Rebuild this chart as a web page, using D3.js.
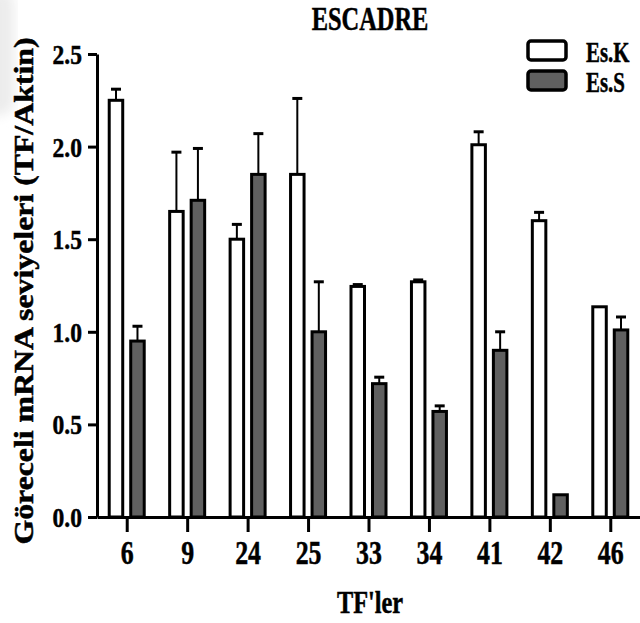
<!DOCTYPE html>
<html>
<head>
<meta charset="utf-8">
<script src="https://cdn.jsdelivr.net/npm/d3@7"></script>
<style>
  body { margin: 0; background: #fff; }
  svg text { font-family: "Liberation Serif", "Times New Roman", serif; font-weight: bold; fill: #000; stroke: #000; stroke-width: 0.5px; }
</style>
</head>
<body>
<svg id="chart" width="640" height="623"></svg>
<script>
// data
var categories = ["6", "9", "24", "25", "33", "34", "41", "42", "46"];
var seriesNames = ["Es.K", "Es.S"];
var esK = [2.25, 1.65, 1.50, 1.85, 1.245, 1.27, 2.01, 1.60, 1.135];
var esKErr = [0.06, 0.32, 0.08, 0.41, 0.01, 0.01, 0.07, 0.045, 0];
var esS = [0.95, 1.71, 1.85, 1.00, 0.72, 0.57, 0.90, 0.12, 1.01];
var esSErr = [0.08, 0.28, 0.22, 0.27, 0.035, 0.03, 0.10, 0, 0.07];
var yTicks = [0, 0.5, 1.0, 1.5, 2.0, 2.5];

var colors = { "Es.K": "#ffffff", "Es.S": "#606060" };

var svg = d3.select("#chart");

// faint grey smudge in the top-left corner of the scan
var defs = svg.append("defs");
defs.append("filter").attr("id", "blur")
  .append("feGaussianBlur").attr("stdDeviation", 6);
svg.append("rect")
  .attr("x", -20).attr("y", -10).attr("width", 34).attr("height", 125)
  .attr("rx", 14)
  .attr("fill", "#ececec")
  .attr("filter", "url(#blur)");

// squash text horizontally like the reference
function squish(sel, k) {
  sel.each(function () {
    var w = this.getComputedTextLength();
    d3.select(this).attr("textLength", w * k).attr("lengthAdjust", "spacingAndGlyphs");
  });
}

var x0 = d3.scaleBand().domain(categories).range([97, 641]).padding(0);
var x1 = d3.scaleBand().domain(seriesNames).range([-18, 17]).paddingInner(0.372);
var y = d3.scaleLinear().domain([0, 2.5]).range([517, 54]);

var rows = categories.map(function (c, i) {
  return {
    cat: c,
    bars: [
      { key: "Es.K", value: esK[i], err: esKErr[i] },
      { key: "Es.S", value: esS[i], err: esSErr[i] }
    ]
  };
});

var groups = svg.selectAll(".grp")
  .data(rows)
  .enter().append("g")
  .attr("class", "grp")
  .attr("transform", function (d) { return "translate(" + (x0(d.cat) + x0.bandwidth() / 2) + ",0)"; });

var bar = groups.selectAll(".bar")
  .data(function (d) { return d.bars; })
  .enter().append("g")
  .attr("class", "bar");

// error bars (upper only)
bar.filter(function (d) { return d.err > 0; })
  .append("line")
  .attr("x1", function (d) { return x1(d.key) + x1.bandwidth() / 2; })
  .attr("x2", function (d) { return x1(d.key) + x1.bandwidth() / 2; })
  .attr("y1", function (d) { return y(d.value); })
  .attr("y2", function (d) { return y(d.value + d.err); })
  .attr("stroke", "#000").attr("stroke-width", 2);

bar.filter(function (d) { return d.err > 0; })
  .append("line")
  .attr("x1", function (d) { return x1(d.key) + x1.bandwidth() / 2 - 5; })
  .attr("x2", function (d) { return x1(d.key) + x1.bandwidth() / 2 + 5; })
  .attr("y1", function (d) { return y(d.value + d.err); })
  .attr("y2", function (d) { return y(d.value + d.err); })
  .attr("stroke", "#000").attr("stroke-width", 3);

bar.append("rect")
  .attr("x", function (d) { return x1(d.key); })
  .attr("width", x1.bandwidth())
  .attr("y", function (d) { return y(d.value); })
  .attr("height", function (d) { return y(0) - y(d.value); })
  .attr("fill", function (d) { return colors[d.key]; })
  .attr("stroke", "#000")
  .attr("stroke-width", 3);

// axes
var yAxis = svg.append("g")
  .attr("transform", "translate(97,0)")
  .call(d3.axisLeft(y).tickValues(yTicks).tickFormat(d3.format(".1f")).tickSize(9).tickSizeOuter(0).tickPadding(6));
yAxis.selectAll("path, line").attr("stroke", "#000").attr("stroke-width", 3);
yAxis.selectAll("text").style("font-size", "28px").attr("dy", "0.34em");
squish(yAxis.selectAll("text"), 0.84);

var xAxis = svg.append("g")
  .attr("transform", "translate(0,517)")
  .call(d3.axisBottom(x0).tickSize(15).tickSizeOuter(0).tickPadding(8));
xAxis.selectAll("path, line").attr("stroke", "#000").attr("stroke-width", 3);
xAxis.selectAll("text").style("font-size", "34px").attr("dy", "0.71em");
squish(xAxis.selectAll("text"), 0.76);

// title and axis labels
var title = svg.append("text")
  .attr("x", 370).attr("y", 30)
  .attr("text-anchor", "middle")
  .style("font-size", "33px")
  .text("ESCADRE");
squish(title, 0.74);

var xLabel = svg.append("text")
  .attr("x", 370).attr("y", 613)
  .attr("text-anchor", "middle")
  .style("font-size", "32px")
  .text("TF'ler");
squish(xLabel, 0.76);

svg.append("text")
  .attr("transform", "translate(33,291) rotate(-90)")
  .attr("text-anchor", "middle")
  .style("font-size", "27px")
  .attr("textLength", 507)
  .attr("lengthAdjust", "spacingAndGlyphs")
  .text("Göreceli mRNA seviyeleri (TF/Aktin)");

// legend
var legend = svg.selectAll(".leg")
  .data(seriesNames)
  .enter().append("g")
  .attr("class", "leg")
  .attr("transform", function (d, i) { return "translate(528," + (41 + i * 30) + ")"; });

legend.append("rect")
  .attr("width", 38).attr("height", 19)
  .attr("rx", 3)
  .attr("fill", function (d) { return colors[d]; })
  .attr("stroke", "#000").attr("stroke-width", 3.5);

var legText = legend.append("text")
  .attr("x", 58).attr("y", 21)
  .style("font-size", "29px")
  .text(function (d) { return d; });
squish(legText, 0.72);
</script>
</body>
</html>
